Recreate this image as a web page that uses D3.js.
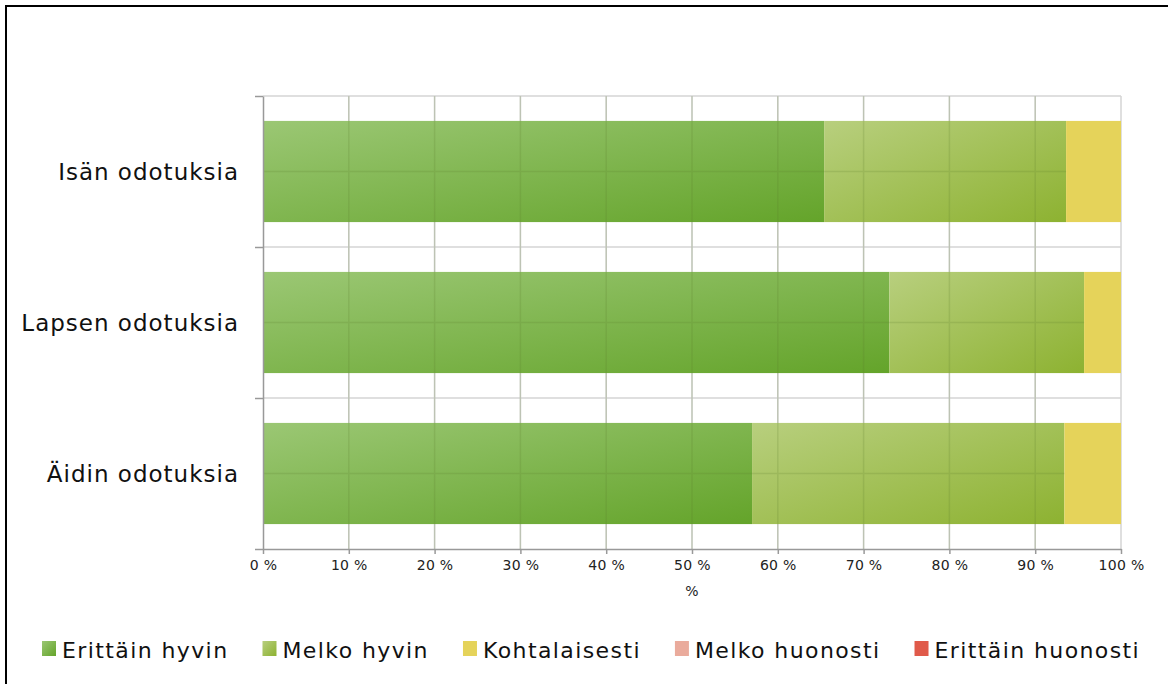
<!DOCTYPE html>
<html>
<head>
<meta charset="utf-8">
<script src="https://cdn.jsdelivr.net/npm/d3@7"></script>
<style>
  body { margin: 0; background: #fff; }
  svg { font-family: "DejaVu Sans", Verdana, sans-serif; }
</style>
</head>
<body>
<svg id="chart" width="1168" height="684"></svg>
<script>
// data
const categories = ['Isän odotuksia', 'Lapsen odotuksia', 'Äidin odotuksia'];
const seriesNames = ['Erittäin hyvin', 'Melko hyvin', 'Kohtalaisesti', 'Melko huonosti', 'Erittäin huonosti'];
const erittainHyvin = [65.4, 73.0, 57.0];
const melkoHyvin = [28.2, 22.7, 36.4];
const kohtalaisesti = [6.4, 4.3, 6.6];
const melkoHuonosti = [0, 0, 0];
const erittainHuonosti = [0, 0, 0];
const xTicks = [0, 10, 20, 30, 40, 50, 60, 70, 80, 90, 100];
const xTitle = '%';

const seriesValues = [erittainHyvin, melkoHyvin, kohtalaisesti, melkoHuonosti, erittainHuonosti];
const colors = ['#7cb24a', '#a3c055', '#e5d35a', '#eaab9c', '#e05a4a'];
const gradients = [
  ['#9bc774', '#64a42a'],
  ['#b8cf7e', '#8db231'],
  null, null, null
];

const svg = d3.select('#chart');

const margins = { left: 263, top: 96, right: 47, bottom: 135 };
const width = 1168, height = 684;
const innerWidth = width - margins.left - margins.right;
const innerHeight = height - margins.top - margins.bottom;

// frame
svg.append('path')
  .attr('d', `M6,${height} V6 H${width}`)
  .attr('fill', 'none')
  .attr('stroke', '#000')
  .attr('stroke-width', 2);

// gradients
const defs = svg.append('defs');
gradients.forEach((g, i) => {
  if (!g) { return; }
  const lg = defs.append('linearGradient')
    .attr('id', 'grad' + i)
    .attr('x1', '0%').attr('y1', '0%')
    .attr('x2', '100%').attr('y2', '100%');
  lg.append('stop').attr('offset', '0%').attr('stop-color', g[0]);
  lg.append('stop').attr('offset', '100%').attr('stop-color', g[1]);
});

// scales
const x = d3.scaleLinear().domain([0, 100]).range([0, innerWidth]);
const y = d3.scaleBand().domain(categories).range([0, innerHeight])
  .paddingInner(0.33).paddingOuter(0.165);
const yEdges = d3.scaleLinear().domain([0, categories.length]).range([0, innerHeight]);

const plot = svg.append('g')
  .attr('transform', `translate(${margins.left}, ${margins.top})`);

// gridlines
const grid = plot.append('g').attr('class', 'grid');
grid.selectAll('line.v')
  .data(xTicks.slice(1))
  .enter().append('line')
  .attr('x1', (d) => x(d)).attr('x2', (d) => x(d))
  .attr('y1', 0).attr('y2', innerHeight)
  .attr('stroke', '#d4d4d4').attr('stroke-width', 1.5);
grid.selectAll('line.h')
  .data(d3.range(categories.length))
  .enter().append('line')
  .attr('x1', 0).attr('x2', innerWidth)
  .attr('y1', (d) => yEdges(d)).attr('y2', (d) => yEdges(d))
  .attr('stroke', '#d4d4d4').attr('stroke-width', 1.5);

// stacked bars
const stackData = categories.map((c, i) => {
  const row = { category: c };
  seriesNames.forEach((s, j) => { row[s] = seriesValues[j][i]; });
  return row;
});
const stacked = d3.stack().keys(seriesNames)(stackData);

const bars = plot.append('g').attr('class', 'dataContainer');
stacked.forEach((layer, j) => {
  bars.selectAll('rect.s' + j)
    .data(layer)
    .enter().append('rect')
    .attr('class', 's' + j)
    .attr('x', (d) => x(d[0]))
    .attr('y', (d) => y(d.data.category))
    .attr('width', (d) => x(d[1]) - x(d[0]))
    .attr('height', y.bandwidth())
    .attr('fill', gradients[j] ? `url(#grad${j})` : colors[j]);
});

// gridlines seen through the green bars
const gridOver = plot.append('g').attr('opacity', 0.18);
gridOver.selectAll('line.v')
  .data(xTicks.slice(1, -1))
  .enter().append('line')
  .attr('x1', (d) => x(d)).attr('x2', (d) => x(d))
  .attr('y1', 0).attr('y2', innerHeight)
  .attr('stroke', '#5a7a2a').attr('stroke-width', 1.5);
gridOver.selectAll('line.h')
  .data(categories)
  .enter().append('line')
  .attr('x1', 0)
  .attr('x2', (d, i) => x(erittainHyvin[i] + melkoHyvin[i]))
  .attr('y1', (d) => y(d) + y.bandwidth() / 2)
  .attr('y2', (d) => y(d) + y.bandwidth() / 2)
  .attr('stroke', '#5a7a2a').attr('stroke-width', 1.5);

// axes
const xAxis = d3.axisBottom(x)
  .tickValues(xTicks)
  .tickFormat((d) => d + ' %')
  .tickSize(5)
  .tickSizeOuter(0);
const xAxisContainer = plot.append('g')
  .attr('transform', `translate(0, ${innerHeight})`)
  .call(xAxis);
xAxisContainer.select('.domain').attr('stroke', '#999').attr('stroke-width', 1.5);
xAxisContainer.selectAll('.tick line').attr('stroke', '#999').attr('stroke-width', 1.5);
xAxisContainer.selectAll('.tick text')
  .attr('dy', '0.95em')
  .style('font-size', '14px')
  .style('letter-spacing', '0.3px')
  .style('font-family', '"DejaVu Sans", Verdana, sans-serif')
  .attr('fill', '#222');

const yAxis = d3.axisLeft(yEdges)
  .tickValues(d3.range(categories.length + 1))
  .tickFormat('')
  .tickSize(8)
  .tickSizeOuter(0);
const yAxisContainer = plot.append('g').call(yAxis);
yAxisContainer.select('.domain').attr('stroke', '#999').attr('stroke-width', 1.5);
yAxisContainer.selectAll('.tick line').attr('stroke', '#999').attr('stroke-width', 1.5);

// category labels
plot.append('g')
  .selectAll('text')
  .data(categories)
  .enter().append('text')
  .attr('x', -24)
  .attr('y', (d) => y(d) + y.bandwidth() / 2)
  .attr('dy', '0.35em')
  .attr('text-anchor', 'end')
  .style('font-size', '23px')
  .style('letter-spacing', '1px')
  .attr('fill', '#111')
  .text((d) => d);

// x title
svg.append('text')
  .attr('x', margins.left + innerWidth / 2)
  .attr('y', 596)
  .attr('text-anchor', 'middle')
  .style('font-size', '14px')
  .attr('fill', '#222')
  .text(xTitle);

// legend
const legend = svg.append('g').attr('class', 'legend');
let cursor = 42;
seriesNames.forEach((name, i) => {
  const g = legend.append('g');
  g.append('rect')
    .attr('x', 0).attr('y', -9)
    .attr('width', 14).attr('height', 15)
    .attr('fill', gradients[i] ? `url(#grad${i})` : colors[i]);
  const t = g.append('text')
    .attr('x', 20).attr('y', 0)
    .attr('dy', '0.35em')
    .style('font-size', '22px')
    .style('letter-spacing', '1.4px')
    .attr('fill', '#111')
    .text(name);
  g.attr('transform', `translate(${cursor}, 650)`);
  cursor += 20 + t.node().getComputedTextLength() + 34;
});
</script>
</body>
</html>
